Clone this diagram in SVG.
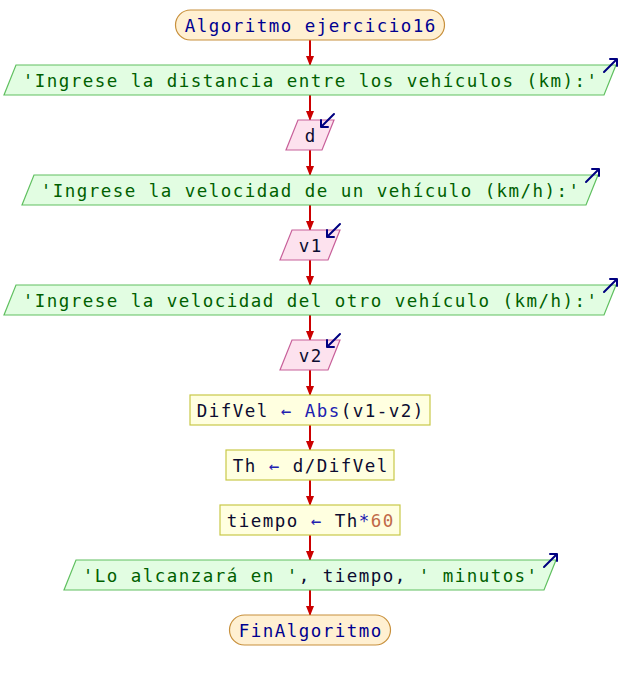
<svg xmlns="http://www.w3.org/2000/svg" width="620" height="680" viewBox="0 0 620 680">
<defs>
<style>
text{font-family:"DejaVu Sans Mono","Liberation Mono",monospace;font-size:17.5px;letter-spacing:1.46px;text-anchor:middle}
.term{fill:#fff0d2;stroke:#c8903c;stroke-width:1.2}
.out{fill:#e2fde2;stroke:#60c060;stroke-width:1.2}
.inp{fill:#fde2ee;stroke:#c8609a;stroke-width:1.2}
.proc{fill:#ffffe0;stroke:#c8c848;stroke-width:1.2}
.kw{fill:#000090}
.str{fill:#006000}
.var{fill:#0c0c30}
.num{fill:#c06a48}
.op{fill:#2020b0}
.conn{stroke:#cc0000;stroke-width:2;fill:none}
.icon{stroke:#000080;stroke-width:2;fill:none;stroke-linecap:round;stroke-linejoin:round}
</style>
<marker id="ah" viewBox="0 0 10 8" refX="9" refY="4" markerWidth="10" markerHeight="8" orient="auto" markerUnits="userSpaceOnUse">
<path d="M0,0 L10,4 L0,8 z" fill="#cc0000"/>
</marker>
</defs>
<g id="connectors">
<line class="conn" x1="310" y1="40" x2="310" y2="65" marker-end="url(#ah)"/>
<line class="conn" x1="310" y1="95" x2="310" y2="120" marker-end="url(#ah)"/>
<line class="conn" x1="310" y1="150" x2="310" y2="175" marker-end="url(#ah)"/>
<line class="conn" x1="310" y1="205" x2="310" y2="230" marker-end="url(#ah)"/>
<line class="conn" x1="310" y1="260" x2="310" y2="285" marker-end="url(#ah)"/>
<line class="conn" x1="310" y1="315" x2="310" y2="340" marker-end="url(#ah)"/>
<line class="conn" x1="310" y1="370" x2="310" y2="395" marker-end="url(#ah)"/>
<line class="conn" x1="310" y1="425" x2="310" y2="450" marker-end="url(#ah)"/>
<line class="conn" x1="310" y1="480" x2="310" y2="505" marker-end="url(#ah)"/>
<line class="conn" x1="310" y1="535" x2="310" y2="560" marker-end="url(#ah)"/>
<line class="conn" x1="310" y1="590" x2="310" y2="615" marker-end="url(#ah)"/>
</g>
<g id="start">
<rect class="term" x="175.5" y="10" width="269" height="30" rx="15"/>
<text x="310.7" y="31.5" class="kw">Algoritmo ejercicio16</text>
</g>
<g id="out1">
<polygon class="out" points="16,65 616,65 604,95 4,95"/>
<text x="310.7" y="86.5" class="str">'Ingrese la distancia entre los vehículos (km):'</text>
<path class="icon" d="M604,72 L617,59 M610,59 L617,59 L617,66"/>
</g>
<g id="in_d">
<polygon class="inp" points="298,120 334,120 322,150 286,150"/>
<text x="310.7" y="141.5" class="var">d</text>
<path class="icon" d="M334,114 L321,127 M328,127 L321,127 L321,120"/>
</g>
<g id="out2">
<polygon class="out" points="34,175 598,175 586,205 22,205"/>
<text x="310.7" y="196.5" class="str">'Ingrese la velocidad de un vehículo (km/h):'</text>
<path class="icon" d="M586,182 L599,169 M592,169 L599,169 L599,176"/>
</g>
<g id="in_v1">
<polygon class="inp" points="292,230 340,230 328,260 280,260"/>
<text x="310.7" y="251.5" class="var">v1</text>
<path class="icon" d="M340,224 L327,237 M334,237 L327,237 L327,230"/>
</g>
<g id="out3">
<polygon class="out" points="16,285 616,285 604,315 4,315"/>
<text x="310.7" y="306.5" class="str">'Ingrese la velocidad del otro vehículo (km/h):'</text>
<path class="icon" d="M604,292 L617,279 M610,279 L617,279 L617,286"/>
</g>
<g id="in_v2">
<polygon class="inp" points="292,340 340,340 328,370 280,370"/>
<text x="310.7" y="361.5" class="var">v2</text>
<path class="icon" d="M340,334 L327,347 M334,347 L327,347 L327,340"/>
</g>
<g id="proc_difvel">
<rect class="proc" x="190" y="395" width="240" height="30"/>
<text x="310.7" y="416.5"><tspan class="var">DifVel </tspan><tspan class="op">←</tspan><tspan class="var"> </tspan><tspan class="op">Abs</tspan><tspan class="var">(v1-v2)</tspan></text>
</g>
<g id="proc_th">
<rect class="proc" x="226" y="450" width="168" height="30"/>
<text x="310.7" y="471.5"><tspan class="var">Th </tspan><tspan class="op">←</tspan><tspan class="var"> d/DifVel</tspan></text>
</g>
<g id="proc_tiempo">
<rect class="proc" x="220" y="505" width="180" height="30"/>
<text x="310.7" y="526.5"><tspan class="var">tiempo </tspan><tspan class="op">←</tspan><tspan class="var"> Th</tspan><tspan class="op">*</tspan><tspan class="num">60</tspan></text>
</g>
<g id="out4">
<polygon class="out" points="76,560 556,560 544,590 64,590"/>
<text x="310.7" y="581.5"><tspan class="str">'Lo alcanzará en '</tspan><tspan class="var">, tiempo, </tspan><tspan class="str">' minutos'</tspan></text>
<path class="icon" d="M544,567 L557,554 M550,554 L557,554 L557,561"/>
</g>
<g id="end">
<rect class="term" x="229.5" y="615" width="161" height="30" rx="15"/>
<text x="310.7" y="636.5" class="kw">FinAlgoritmo</text>
</g>
</svg>
